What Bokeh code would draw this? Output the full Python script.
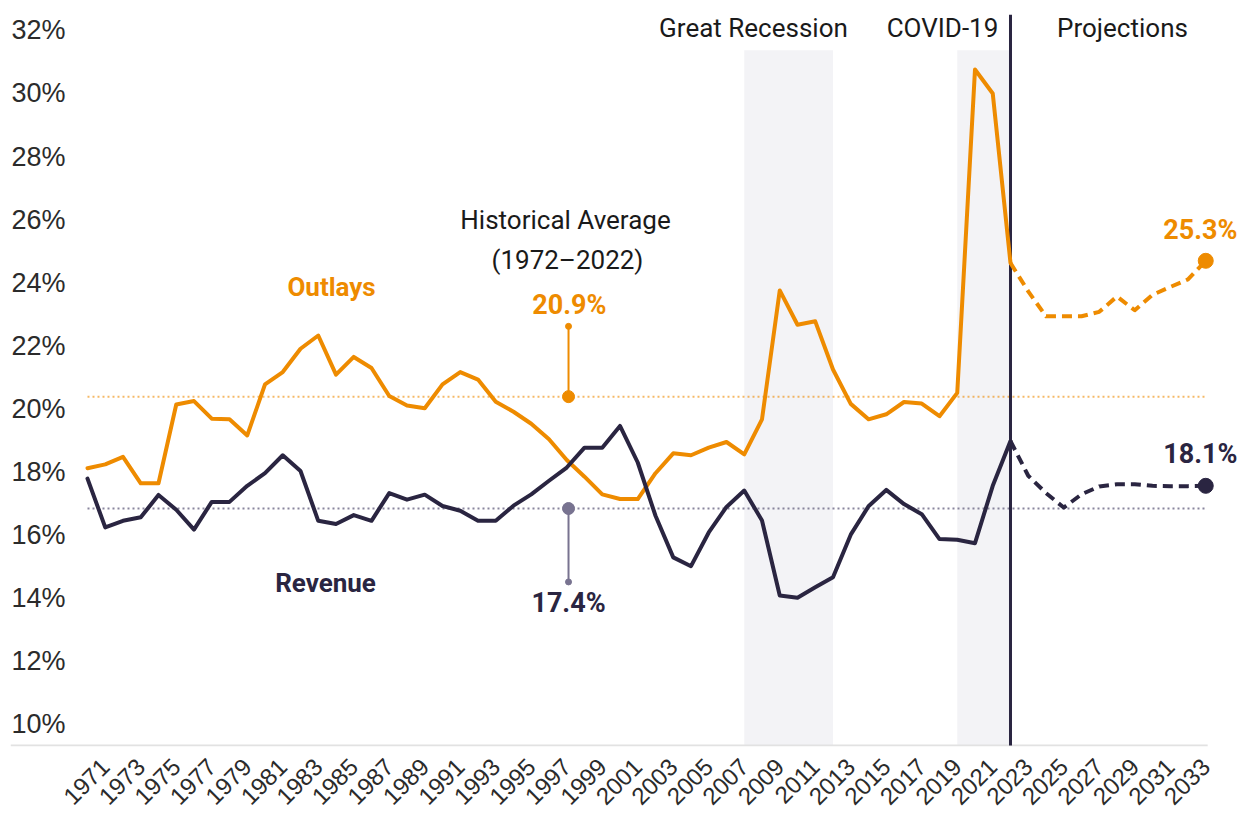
from bokeh.plotting import figure
from bokeh.models import FixedTicker, BoxAnnotation, Label, Range1d
from bokeh.embed import file_html
from bokeh.resources import INLINE

# ---------------- data ----------------
years_hist = list(range(1970, 2023))
outlays_hist = [18.11, 18.23, 18.47, 17.63, 17.63, 20.13, 20.24, 19.68, 19.66, 19.15,
                20.77, 21.16, 21.90, 22.32, 21.08, 21.64, 21.29, 20.40, 20.10, 20.01,
                20.77, 21.16, 20.92, 20.22, 19.90, 19.52, 19.03, 18.37, 17.84, 17.28,
                17.13, 17.13, 17.95, 18.58, 18.52, 18.76, 18.94, 18.55, 19.66, 23.75,
                22.66, 22.77, 21.24, 20.15, 19.66, 19.82, 20.21, 20.16, 19.76, 20.50,
                30.76, 30.00, 24.62]
revenue_hist = [17.78, 16.23, 16.44, 16.55, 17.26, 16.79, 16.16, 17.04, 17.04, 17.55,
                17.95, 18.52, 18.02, 16.44, 16.34, 16.62, 16.44, 17.32, 17.11, 17.27,
                16.91, 16.76, 16.44, 16.44, 16.92, 17.28, 17.71, 18.13, 18.76, 18.76,
                19.45, 18.29, 16.60, 15.28, 15.00, 16.07, 16.88, 17.40, 16.45, 14.07,
                14.00, 14.33, 14.65, 16.00, 16.90, 17.42, 16.97, 16.65, 15.86, 15.84,
                15.73, 17.55, 18.97]

years_proj = list(range(2023, 2034))
outlays_proj = [23.72, 22.93, 22.93, 22.93, 23.07, 23.56, 23.12, 23.61, 23.86, 24.10, 24.69]
revenue_proj = [17.87, 17.32, 16.86, 17.28, 17.53, 17.60, 17.60, 17.55, 17.54, 17.54, 17.55]

avg_outlays = 20.38
avg_revenue = 16.83
avg_outlays_label = "20.9%"
avg_revenue_label = "17.4%"
end_outlays_label = "25.3%"
end_revenue_label = "18.1%"

x_ticks = list(range(1971, 2034, 2))
x_tick_labels = [str(t) for t in x_ticks]
y_ticks = [10, 12, 14, 16, 18, 20, 22, 24, 26, 28, 30, 32]
y_tick_labels = ["10%", "12%", "14%", "16%", "18%", "20%", "22%", "24%", "26%", "28%", "30%", "32%"]

recession_span = (2007, 2012)
covid_span = (2019, 2022)
projection_start = 2022

# ---------------- styles ----------------
ORANGE = "#ee8b00"
NAVY = "#2a2541"
STEM_GREY = "#787390"
SHADE = "#f3f3f6"
FONT = "Roboto"

X0, X1 = 1965.662, 2034.958
Y0, Y1 = 9.278, 32.506
BASE_Y = 9.31
AXIS_END = 2033.11

p = figure(width=1240, height=815, output_backend="svg", toolbar_location=None,
           x_range=Range1d(X0, X1), y_range=Range1d(Y0, Y1),
           min_border_left=10, min_border_right=0, min_border_top=14, min_border_bottom=67)
p.outline_line_color = None
p.grid.visible = False
p.background_fill_color = "white"

# shaded periods
for a, b in (recession_span, covid_span):
    p.add_layout(BoxAnnotation(left=a, right=b, top=31.37, bottom=BASE_Y, fill_color=SHADE,
                               fill_alpha=1.0, line_color=None, level="underlay"))

# baseline
p.line([X0, AXIS_END], [BASE_Y, BASE_Y], line_color="#e2e2e2", line_width=2)

# average lines
x_first, x_last = years_hist[0], years_proj[-1]
p.line([x_first, x_last], [avg_outlays, avg_outlays], line_color=ORANGE, line_alpha=0.6,
       line_width=2, line_dash="2 3")
p.line([x_first, x_last], [avg_revenue, avg_revenue], line_color="#6c6785", line_alpha=0.8,
       line_width=2, line_dash="2 3")

# projection divider
p.segment([projection_start], [BASE_Y], [projection_start], [Y1], line_color=NAVY, line_width=3)

# historical lines
p.line(years_hist, outlays_hist, line_color=ORANGE, line_width=4, line_join="round", line_cap="round")
p.line(years_hist, revenue_hist, line_color=NAVY, line_width=4, line_join="round", line_cap="round")

# projections (dashed), starting from last historical point
p.line([years_hist[-1]] + years_proj, [outlays_hist[-1]] + outlays_proj, line_color=ORANGE,
       line_width=4, line_dash="10 6", line_join="round")
p.line([years_hist[-1]] + years_proj, [revenue_hist[-1]] + revenue_proj, line_color=NAVY,
       line_width=4, line_dash="10 6", line_join="round")

# end dots
p.scatter([years_proj[-1]], [outlays_proj[-1]], size=15, color=ORANGE)
p.scatter([years_proj[-1]], [revenue_proj[-1]], size=15, color=NAVY)

# average callouts
stem_x = 1997.1
p.segment([stem_x], [avg_outlays], [stem_x], [22.61], line_color=ORANGE, line_width=2)
p.scatter([stem_x], [22.61], size=6, color=ORANGE)
p.scatter([stem_x], [avg_outlays], size=12, color=ORANGE)
p.segment([stem_x], [avg_revenue], [stem_x], [14.50], line_color=STEM_GREY, line_width=2)
p.scatter([stem_x], [14.50], size=6, color=STEM_GREY)
p.scatter([stem_x], [avg_revenue], size=12, color=STEM_GREY)

def lab(x, y, text, color="#1a1a1a", bold=False, size="26px"):
    p.add_layout(Label(x=x, y=y, text=text, text_align="center", text_baseline="middle",
                       text_font=FONT, text_font_size=size, text_color=color,
                       text_font_style="bold" if bold else "normal"))

lab(2007.52, 32.09, "Great Recession")
lab(2018.17, 32.09, "COVID-19")
lab(2028.31, 32.09, "Projections")
lab(1996.93, 25.99, "Historical Average")
lab(1997.04, 24.72, "(1972\u20132022)")
lab(1983.75, 23.87, "Outlays", ORANGE, True)
lab(1983.41, 14.47, "Revenue", NAVY, True)
lab(1997.15, 23.30, avg_outlays_label, ORANGE, True, "27px")
lab(1997.10, 13.84, avg_revenue_label, NAVY, True, "27px")
lab(2032.7, 25.67, end_outlays_label, ORANGE, True, "27px")
lab(2032.7, 18.55, end_revenue_label, NAVY, True, "27px")

# axes
xa = p.xaxis[0]
xa.ticker = FixedTicker(ticks=x_ticks)
xa.major_label_overrides = {t: s for t, s in zip(x_ticks, x_tick_labels)}
xa.major_label_orientation = 0.785398
xa.major_label_text_font = "Liberation Sans"
xa.major_label_text_font_size = "24px"
xa.major_label_text_color = "#2b2b2b"
xa.major_label_standoff = 10
xa.axis_line_color = None
xa.major_tick_line_color = None
xa.minor_tick_line_color = None

ya = p.yaxis[0]
ya.ticker = FixedTicker(ticks=y_ticks)
ya.major_label_overrides = {t: s for t, s in zip(y_ticks, y_tick_labels)}
ya.major_label_text_font = "Liberation Sans"
ya.major_label_text_font_size = "27px"
ya.major_label_text_color = "#2b2b2b"
ya.major_label_standoff = -55
ya.axis_line_color = None
ya.major_tick_line_color = None
ya.minor_tick_line_color = None
ya.major_tick_out = 0
ya.major_tick_in = 0

open("out.html", "w").write(file_html(p, INLINE))
